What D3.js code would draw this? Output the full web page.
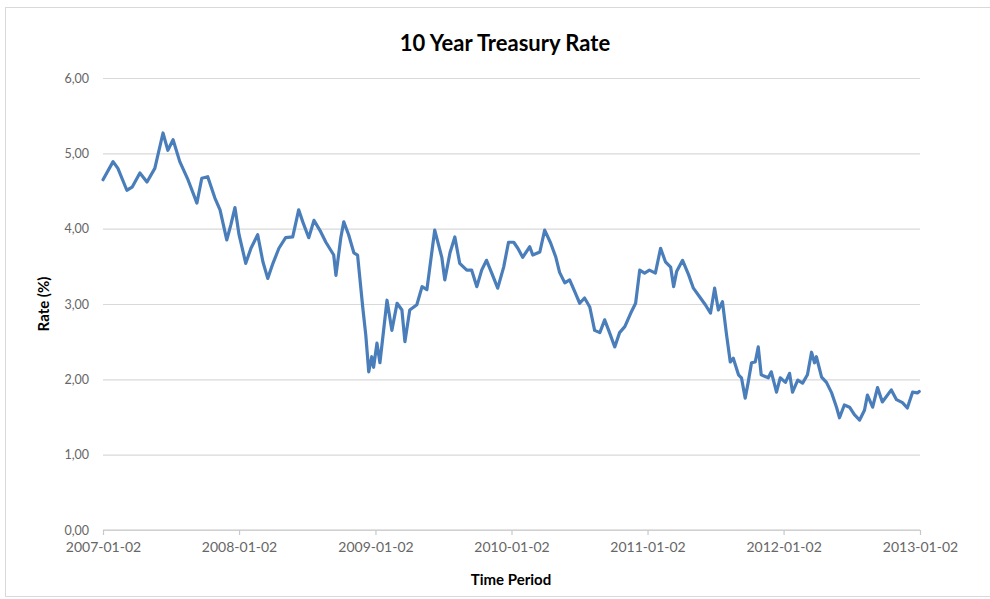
<!DOCTYPE html>
<html>
<head>
<meta charset="utf-8">
<script src="https://cdn.jsdelivr.net/npm/d3@7"></script>
<style>
  html, body { margin: 0; padding: 0; background: #fff; }
  svg { display: block; }
</style>
</head>
<body>
<svg id="chart" width="990" height="599"></svg>
<script>
// 10-year U.S. Treasury constant-maturity yield, 2007–2012 (percent)
const dates = [
  "2007-01-02","2007-01-29","2007-02-11","2007-03-07","2007-03-21","2007-04-11","2007-04-30","2007-05-21",
  "2007-06-12","2007-06-25","2007-07-09","2007-07-27","2007-08-18","2007-09-11","2007-09-24","2007-10-10",
  "2007-10-29","2007-11-12","2007-11-30","2007-12-11","2007-12-22","2008-01-02",
  "2008-01-20","2008-02-03","2008-02-21","2008-03-06","2008-03-19","2008-04-02","2008-04-18","2008-05-06",
  "2008-05-25","2008-06-10","2008-06-21","2008-07-07","2008-07-21","2008-08-08","2008-08-22","2008-09-12",
  "2008-09-18","2008-10-01","2008-10-09","2008-10-22","2008-11-05","2008-11-15","2008-11-29","2008-12-07",
  "2008-12-15","2008-12-23","2008-12-28",
  "2009-01-06","2009-01-14","2009-02-02","2009-02-15","2009-03-01","2009-03-14","2009-03-22","2009-04-04",
  "2009-04-23","2009-05-07","2009-05-20","2009-06-02","2009-06-10","2009-06-29","2009-07-07","2009-07-21",
  "2009-08-03","2009-08-16","2009-09-04","2009-09-17","2009-10-01","2009-10-14","2009-10-27","2009-11-10",
  "2009-11-26","2009-12-12","2009-12-25",
  "2010-01-08","2010-01-19","2010-02-01","2010-02-20","2010-02-28","2010-03-19","2010-04-01","2010-04-17",
  "2010-05-01","2010-05-11","2010-05-25","2010-06-07","2010-06-21","2010-07-04","2010-07-17","2010-07-31",
  "2010-08-13","2010-08-27","2010-09-09","2010-09-22","2010-10-06","2010-10-19","2010-11-02","2010-11-18",
  "2010-12-01","2010-12-12","2010-12-25",
  "2011-01-07","2011-01-23","2011-02-06","2011-02-19","2011-03-05","2011-03-13","2011-03-21","2011-04-06",
  "2011-04-22","2011-05-05","2011-05-24","2011-06-06","2011-06-20","2011-07-01","2011-07-11","2011-07-22",
  "2011-08-02","2011-08-12","2011-08-20","2011-09-03","2011-09-11","2011-09-21","2011-09-29","2011-10-08",
  "2011-10-18","2011-10-26","2011-11-03","2011-11-22","2011-11-30","2011-12-14","2011-12-24",
  "2012-01-07","2012-01-18","2012-01-26","2012-02-09","2012-02-22","2012-03-06","2012-03-17","2012-03-25",
  "2012-03-30","2012-04-13","2012-04-26","2012-05-10","2012-05-23","2012-05-31","2012-06-13","2012-06-27",
  "2012-07-10","2012-07-24","2012-08-06","2012-08-14","2012-08-28","2012-09-10","2012-09-23","2012-10-17",
  "2012-10-31","2012-11-16","2012-11-29","2012-12-13","2012-12-26","2012-12-31"
];
const rates = [
  4.65,4.89,4.80,4.51,4.55,4.74,4.62,4.80,
  5.27,5.04,5.18,4.89,4.65,4.34,4.67,4.69,
  4.41,4.25,3.85,4.05,4.28,3.92,
  3.54,3.74,3.92,3.56,3.34,3.54,3.74,3.88,
  3.89,4.25,4.09,3.88,4.11,3.96,3.82,3.65,
  3.38,3.88,4.09,3.92,3.68,3.65,2.95,2.59,
  2.10,2.30,2.16,
  2.48,2.22,3.05,2.65,3.01,2.92,2.50,2.92,
  2.99,3.23,3.19,3.68,3.98,3.62,3.32,3.68,
  3.89,3.54,3.45,3.45,3.23,3.45,3.58,3.41,
  3.21,3.49,3.82,
  3.82,3.74,3.62,3.76,3.65,3.69,3.98,3.81,
  3.62,3.42,3.28,3.32,3.16,3.01,3.08,2.96,
  2.65,2.62,2.79,2.62,2.43,2.62,2.70,2.88,
  3.01,3.45,3.41,
  3.45,3.41,3.74,3.56,3.49,3.23,3.43,3.58,
  3.39,3.21,3.08,2.99,2.88,3.21,2.92,3.03,
  2.59,2.23,2.28,2.06,2.02,1.75,1.96,2.22,
  2.23,2.43,2.06,2.02,2.10,1.83,2.02,
  1.96,2.08,1.83,1.99,1.95,2.06,2.36,2.22,
  2.30,2.03,1.96,1.82,1.63,1.49,1.66,1.63,
  1.53,1.46,1.59,1.79,1.63,1.89,1.70,1.86,
  1.73,1.69,1.62,1.83,1.82,1.84
];
const xTickLabels = ["2007-01-02","2008-01-02","2009-01-02","2010-01-02","2011-01-02","2012-01-02","2013-01-02"];
const yTicks = [0, 1, 2, 3, 4, 5, 6];

const chartTitle = "10 Year Treasury Rate";
const xTitle = "Time Period";
const yTitle = "Rate (%)";

const parse = d3.timeParse("%Y-%m-%d");
const fmtDate = d3.timeFormat("%Y-%m-%d");
const fmtRate = v => d3.format(".2f")(v).replace(".", ",");

const series = dates.map((d, i) => ({ date: parse(d), rate: rates[i] }));
const xTickDates = xTickLabels.map(parse);

const svg = d3.select("#chart");
const W = 990, H = 599;
const plot = { left: 103, right: 920, top: 78, bottom: 530 };

// Outer chart frame
svg.append("rect")
  .attr("x", 5.5).attr("y", 7.5)
  .attr("width", W).attr("height", 589)
  .attr("fill", "#fff")
  .attr("stroke", "#d9d9d9");

const x = d3.scaleTime()
  .domain([xTickDates[0], xTickDates[xTickDates.length - 1]])
  .range([plot.left, plot.right]);
const y = d3.scaleLinear()
  .domain([0, 6])
  .range([plot.bottom, plot.top]);

const textColor = "#666666";
const font = "Lato, 'Open Sans', sans-serif";

// Horizontal gridlines + value labels
const yAxis = d3.axisLeft(y)
  .tickValues(yTicks)
  .tickSize(-(plot.right - plot.left))
  .tickPadding(14)
  .tickFormat(fmtRate);
const gy = svg.append("g")
  .attr("transform", `translate(${plot.left},0)`)
  .call(yAxis);
gy.select(".domain").remove();
gy.selectAll(".tick line").attr("stroke", "#d9d9d9").attr("stroke-width", 1.2);
gy.selectAll(".tick text")
  .attr("fill", textColor)
  .style("font-family", font)
  .style("font-size", "12.5px");

// Date axis along the zero line
const xAxis = d3.axisBottom(x)
  .tickValues(xTickDates)
  .tickSize(5)
  .tickPadding(7)
  .tickFormat(fmtDate);
const gx = svg.append("g")
  .attr("transform", `translate(0,${plot.bottom})`)
  .call(xAxis);
gx.select(".domain").attr("stroke", "#c8c8c8").attr("stroke-width", 1.2)
  .attr("d", `M${plot.left},0H${plot.right}`);
gx.selectAll(".tick line").attr("stroke", "#c8c8c8").attr("stroke-width", 1.2);
gx.selectAll(".tick text")
  .attr("fill", textColor)
  .style("font-family", font)
  .style("font-size", "14px");

// Rate line
const line = d3.line()
  .x(d => x(d.date))
  .y(d => y(d.rate));
svg.append("path")
  .datum(series)
  .attr("fill", "none")
  .attr("stroke", "#4a7ebb")
  .attr("stroke-width", 3.2)
  .attr("stroke-linejoin", "round")
  .attr("stroke-linecap", "round")
  .attr("d", line);

// Titles
svg.append("text")
  .attr("x", 505).attr("y", 51)
  .attr("text-anchor", "middle")
  .style("font-family", font)
  .style("font-weight", "bold")
  .style("font-size", "22px")
  .attr("fill", "#000")
  .text(chartTitle);

svg.append("text")
  .attr("x", 511).attr("y", 585)
  .attr("text-anchor", "middle")
  .style("font-family", font)
  .style("font-weight", "bold")
  .style("font-size", "15px")
  .attr("fill", "#000")
  .text(xTitle);

svg.append("text")
  .attr("transform", "translate(49,304) rotate(-90)")
  .attr("text-anchor", "middle")
  .style("font-family", font)
  .style("font-weight", "bold")
  .style("font-size", "15px")
  .attr("fill", "#000")
  .text(yTitle);
</script>
</body>
</html>
